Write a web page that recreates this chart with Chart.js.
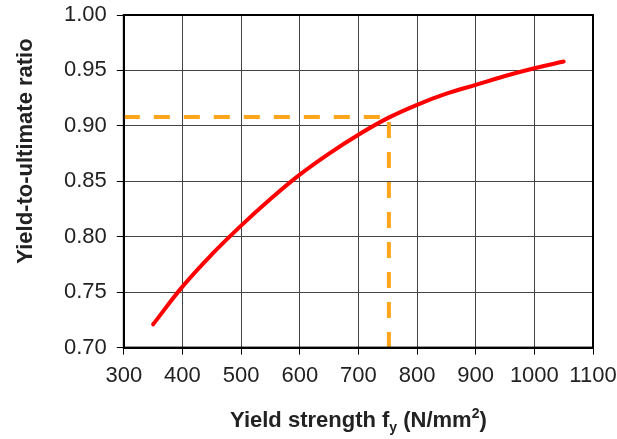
<!DOCTYPE html>
<html>
<head>
<meta charset="utf-8">
<script src="https://cdn.jsdelivr.net/npm/chart.js@4"></script>
<style>
  html, body { margin: 0; padding: 0; background: #fff; }
  #wrap { width: 617px; height: 439px; }
</style>
</head>
<body>
<div id="wrap"><canvas id="ratioChart" width="617" height="439"></canvas></div>
<script>
// valeurs
const yieldStrength = [350, 400, 450, 500, 550, 600, 650, 700, 750, 800, 850, 900, 950, 1000, 1050];
const ratio = [0.721, 0.755, 0.784, 0.810, 0.834, 0.856, 0.875, 0.892, 0.907, 0.919, 0.929, 0.937, 0.945, 0.952, 0.958];

// lecture en pointillés (fy = 752 -> 0.908)
const guideX = [300, 752, 752];
const guideY = [0.908, 0.908, 0.694];

const xTicks = [300, 400, 500, 600, 700, 800, 900, 1000, 1100];
const yTicks = [0.70, 0.75, 0.80, 0.85, 0.90, 0.95, 1.00];

const textColor = '#222';
const family = '"Liberation Sans", Arial, sans-serif';

// cadre + titres des axes (indice / exposant)
const decor = {
  id: 'decor',
  afterDatasetsDraw(chart) {
    const { ctx, chartArea: a } = chart;
    ctx.save();
    ctx.strokeStyle = '#000';
    ctx.lineWidth = 2;
    ctx.strokeRect(a.left, a.top, a.right - a.left, a.bottom - a.top);
    ctx.restore();
  },
  afterDraw(chart) {
    const { ctx, chartArea: a } = chart;
    ctx.save();
    ctx.fillStyle = textColor;
    ctx.textBaseline = 'alphabetic';

    // titre x
    const big = 'bold 22px ' + family;
    const small = 'bold 14px ' + family;
    const parts = [
      ['Yield strength f', big, 0],
      ['y', small, 5],
      [' (N/mm', big, 0],
      ['2', small, -9],
      [')', big, 0]
    ];
    let total = 0;
    parts.forEach(p => { ctx.font = p[1]; total += ctx.measureText(p[0]).width; });
    let x = (a.left + a.right) / 2 - total / 2;
    const base = 427;
    ctx.textAlign = 'left';
    parts.forEach(p => {
      ctx.font = p[1];
      ctx.fillText(p[0], x, base + p[2]);
      x += ctx.measureText(p[0]).width;
    });

    // titre y
    ctx.translate(32, 151);
    ctx.rotate(-Math.PI / 2);
    ctx.font = big;
    ctx.textAlign = 'center';
    ctx.fillText('Yield-to-ultimate ratio', 0, 0);
    ctx.restore();
  }
};

new Chart(document.getElementById('ratioChart').getContext('2d'), {
  type: 'line',
  data: {
    datasets: [
      {
        label: 'ratio',
        data: yieldStrength.map((v, i) => ({ x: v, y: ratio[i] })),
        borderColor: '#ff0000',
        borderWidth: 4,
        borderCapStyle: 'round',
        pointRadius: 0,
        tension: 0.4,
        fill: false
      },
      {
        label: 'guide',
        data: guideX.map((v, i) => ({ x: v, y: guideY[i] })),
        borderColor: '#ffa51c',
        borderWidth: 4,
        borderDash: [16, 14],
        pointRadius: 0,
        tension: 0,
        clip: false,
        fill: false
      }
    ]
  },
  options: {
    responsive: false,
    animation: false,
    layout: { padding: { left: 54, top: 15, right: 24, bottom: 42 } },
    plugins: {
      legend: { display: false },
      tooltip: { enabled: false }
    },
    scales: {
      x: {
        type: 'linear',
        min: 300,
        max: 1100,
        afterBuildTicks: (s) => { s.ticks = xTicks.map(v => ({ value: v })); },
        afterFit: (s) => { s.paddingLeft = 0; s.paddingRight = 0; },
        ticks: {
          color: textColor,
          padding: 8,
          maxRotation: 0,
          callback: (v) => String(v),
          font: { family: family, size: 22 }
        },
        grid: { color: '#444', lineWidth: 1, tickLength: 7, tickColor: '#000' },
        border: { color: '#000', width: 2 }
      },
      y: {
        min: 0.70,
        max: 1.00,
        afterBuildTicks: (s) => { s.ticks = yTicks.map(v => ({ value: v })); },
        afterFit: (s) => { s.paddingTop = 0; s.paddingBottom = 0; },
        ticks: {
          color: textColor,
          padding: 10,
          callback: (v) => v.toFixed(2),
          font: { family: family, size: 22 }
        },
        grid: { color: '#444', lineWidth: 1, tickLength: 7, tickColor: '#000' },
        border: { color: '#000', width: 2 }
      }
    }
  },
  plugins: [decor]
});
</script>
</body>
</html>
